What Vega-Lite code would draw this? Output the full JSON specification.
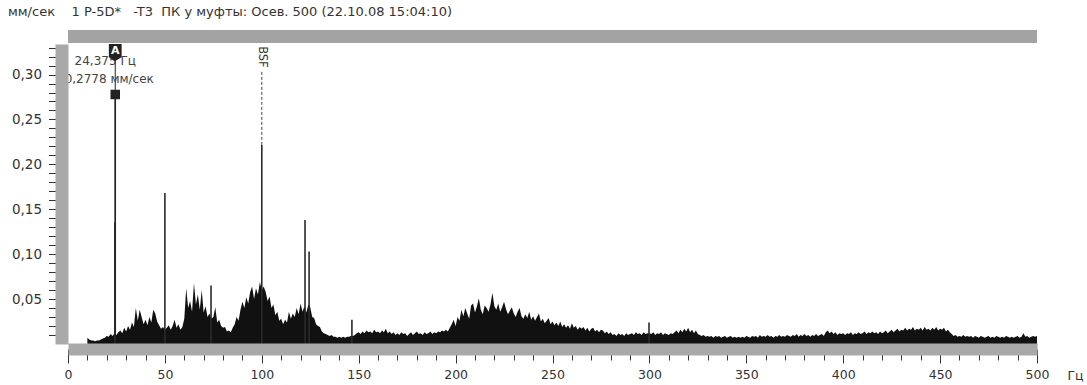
{
"$schema": "https://vega.github.io/schema/vega-lite/v6.json",
"width": 969, "height": 300,
"autosize": {"type": "none"},
"padding": {"left": 68, "top": 44, "right": 50, "bottom": 41},
"background": "white",
"config": {"view": {"stroke": null}, "font": "DejaVu Sans"},
"title": {"text": "мм/сек\u00a0\u00a0\u00a0\u00a01\u00a0P-5D*\u00a0\u00a0\u00a0-T3\u00a0\u00a0ПК у муфты: Осев. 500 (22.10.08 15:04:10)", "anchor": "start", "frame": "group", "dx": -60, "offset": 11, "fontSize": 13, "fontWeight": "normal", "color": "#333", "font": "DejaVu Sans"},
"encoding": {
"x": {"field": "f", "type": "quantitative", "scale": {"domain": [0, 500], "nice": false, "zero": false},
 "axis": {"orient": "bottom", "values": [0,10,20,30,40,50,60,70,80,90,100,110,120,130,140,150,160,170,180,190,200,210,220,230,240,250,260,270,280,290,300,310,320,330,340,350,360,370,380,390,400,410,420,430,440,450,460,470,480,490,500],
 "labelExpr": "datum.value % 50 === 0 ? datum.label : ''",
 "tickSize": {"condition": {"test": "datum.value % 50 === 0", "value": 14}, "value": 11},
 "domainWidth": 12, "domainColor": "#a9a9a9", "offset": 5, "tickColor": "#333", "tickWidth": 1,
 "labelColor": "#333", "labelFontSize": 12.5, "labelPadding": 5, "labelFlush": false, "labelOverlap": false,
 "title": "Гц", "titleX": 1007, "titleY": 26, "titleAlign": "center", "titleBaseline": "middle", "titleFontWeight": "normal", "titleFontSize": 12.5, "titleColor": "#333",
 "grid": false, "zindex": 1}},
"y": {"field": "a", "type": "quantitative", "scale": {"domain": [0, 0.334], "nice": false},
 "axis": {"orient": "left", "values": [0.01,0.02,0.03,0.04,0.05,0.06,0.07,0.08,0.09,0.1,0.11,0.12,0.13,0.14,0.15,0.16,0.17,0.18,0.19,0.2,0.21,0.22,0.23,0.24,0.25,0.26,0.27,0.28,0.29,0.3,0.31,0.32,0.33],
 "labelExpr": "round(datum.value*100) % 5 === 0 ? replace(format(datum.value, '.2f'), '.', ',') : ''",
 "tickSize": 13, "ticks": true,
 "domainWidth": 13, "domainColor": "#a9a9a9", "offset": 6.5, "tickColor": "#333", "tickWidth": 1,
 "labelColor": "#333", "labelFontSize": 13.5, "labelPadding": 7, "labelOverlap": false,
 "title": null, "grid": false, "zindex": 1}}
},
"layer": [
{
"data": {"values": [
{"f":10,"a":0.007},{"f":11,"a":0.005},{"f":12,"a":0.004},{"f":13,"a":0.004},{"f":14,"a":0.003},{"f":15,"a":0.004},{"f":16,"a":0.004},{"f":17,"a":0.005},{"f":18,"a":0.006},{"f":19,"a":0.007},
{"f":20,"a":0.009},{"f":21,"a":0.008},{"f":22,"a":0.011},{"f":23,"a":0.009},{"f":24,"a":0.012},{"f":25,"a":0.010},{"f":26,"a":0.013},{"f":27,"a":0.015},{"f":28,"a":0.012},{"f":29,"a":0.018},
{"f":30,"a":0.014},{"f":31,"a":0.020},{"f":32,"a":0.016},{"f":33,"a":0.024},{"f":34,"a":0.019},{"f":35,"a":0.040},{"f":36,"a":0.026},{"f":37,"a":0.038},{"f":38,"a":0.030},{"f":39,"a":0.022},
{"f":40,"a":0.027},{"f":41,"a":0.021},{"f":42,"a":0.030},{"f":43,"a":0.024},{"f":44,"a":0.038},{"f":45,"a":0.034},{"f":46,"a":0.025},{"f":47,"a":0.021},{"f":48,"a":0.017},{"f":49,"a":0.019},
{"f":50,"a":0.016},{"f":51,"a":0.018},{"f":52,"a":0.021},{"f":53,"a":0.016},{"f":54,"a":0.020},{"f":55,"a":0.027},{"f":56,"a":0.018},{"f":57,"a":0.022},{"f":58,"a":0.016},{"f":59,"a":0.019},
{"f":60,"a":0.028},{"f":61,"a":0.062},{"f":62,"a":0.040},{"f":63,"a":0.048},{"f":64,"a":0.036},{"f":65,"a":0.068},{"f":66,"a":0.044},{"f":67,"a":0.055},{"f":68,"a":0.038},{"f":69,"a":0.060},
{"f":70,"a":0.035},{"f":71,"a":0.042},{"f":72,"a":0.030},{"f":73,"a":0.034},{"f":74,"a":0.028},{"f":75,"a":0.030},{"f":76,"a":0.041},{"f":77,"a":0.024},{"f":78,"a":0.027},{"f":79,"a":0.020},
{"f":80,"a":0.018},{"f":81,"a":0.019},{"f":82,"a":0.014},{"f":83,"a":0.015},{"f":84,"a":0.013},{"f":85,"a":0.018},{"f":86,"a":0.022},{"f":87,"a":0.030},{"f":88,"a":0.026},{"f":89,"a":0.038},
{"f":90,"a":0.047},{"f":91,"a":0.040},{"f":92,"a":0.052},{"f":93,"a":0.045},{"f":94,"a":0.058},{"f":95,"a":0.064},{"f":96,"a":0.050},{"f":97,"a":0.062},{"f":98,"a":0.055},{"f":99,"a":0.069},
{"f":100,"a":0.060},{"f":101,"a":0.064},{"f":102,"a":0.058},{"f":103,"a":0.048},{"f":104,"a":0.053},{"f":105,"a":0.040},{"f":106,"a":0.044},{"f":107,"a":0.032},{"f":108,"a":0.036},{"f":109,"a":0.026},
{"f":110,"a":0.028},{"f":111,"a":0.022},{"f":112,"a":0.027},{"f":113,"a":0.024},{"f":114,"a":0.036},{"f":115,"a":0.028},{"f":116,"a":0.034},{"f":117,"a":0.030},{"f":118,"a":0.040},{"f":119,"a":0.033},
{"f":120,"a":0.045},{"f":121,"a":0.036},{"f":122,"a":0.042},{"f":123,"a":0.035},{"f":124,"a":0.044},{"f":125,"a":0.041},{"f":126,"a":0.030},{"f":127,"a":0.029},{"f":128,"a":0.022},{"f":129,"a":0.020},
{"f":130,"a":0.019},{"f":131,"a":0.014},{"f":132,"a":0.012},{"f":133,"a":0.011},{"f":134,"a":0.010},{"f":135,"a":0.009},{"f":136,"a":0.010},{"f":137,"a":0.008},{"f":138,"a":0.008},{"f":139,"a":0.007},
{"f":140,"a":0.008},{"f":141,"a":0.007},{"f":142,"a":0.008},{"f":143,"a":0.007},{"f":144,"a":0.008},{"f":145,"a":0.008},{"f":146,"a":0.009},{"f":147,"a":0.009},{"f":148,"a":0.010},{"f":149,"a":0.012},
{"f":150,"a":0.013},{"f":151,"a":0.011},{"f":152,"a":0.014},{"f":153,"a":0.012},{"f":154,"a":0.015},{"f":155,"a":0.013},{"f":156,"a":0.014},{"f":157,"a":0.012},{"f":158,"a":0.016},{"f":159,"a":0.013},
{"f":160,"a":0.014},{"f":161,"a":0.012},{"f":162,"a":0.015},{"f":163,"a":0.013},{"f":164,"a":0.017},{"f":165,"a":0.012},{"f":166,"a":0.014},{"f":167,"a":0.011},{"f":168,"a":0.013},{"f":169,"a":0.010},
{"f":170,"a":0.012},{"f":171,"a":0.010},{"f":172,"a":0.013},{"f":173,"a":0.011},{"f":174,"a":0.012},{"f":175,"a":0.009},{"f":176,"a":0.011},{"f":177,"a":0.013},{"f":178,"a":0.010},{"f":179,"a":0.012},
{"f":180,"a":0.014},{"f":181,"a":0.011},{"f":182,"a":0.012},{"f":183,"a":0.010},{"f":184,"a":0.013},{"f":185,"a":0.011},{"f":186,"a":0.012},{"f":187,"a":0.014},{"f":188,"a":0.011},{"f":189,"a":0.013},
{"f":190,"a":0.012},{"f":191,"a":0.014},{"f":192,"a":0.013},{"f":193,"a":0.015},{"f":194,"a":0.014},{"f":195,"a":0.016},{"f":196,"a":0.014},{"f":197,"a":0.018},{"f":198,"a":0.022},{"f":199,"a":0.027},
{"f":200,"a":0.020},{"f":201,"a":0.030},{"f":202,"a":0.026},{"f":203,"a":0.038},{"f":204,"a":0.031},{"f":205,"a":0.040},{"f":206,"a":0.034},{"f":207,"a":0.028},{"f":208,"a":0.043},{"f":209,"a":0.045},
{"f":210,"a":0.035},{"f":211,"a":0.042},{"f":212,"a":0.051},{"f":213,"a":0.038},{"f":214,"a":0.033},{"f":215,"a":0.043},{"f":216,"a":0.040},{"f":217,"a":0.036},{"f":218,"a":0.044},{"f":219,"a":0.057},
{"f":220,"a":0.042},{"f":221,"a":0.038},{"f":222,"a":0.045},{"f":223,"a":0.036},{"f":224,"a":0.041},{"f":225,"a":0.047},{"f":226,"a":0.039},{"f":227,"a":0.033},{"f":228,"a":0.037},{"f":229,"a":0.041},
{"f":230,"a":0.034},{"f":231,"a":0.030},{"f":232,"a":0.036},{"f":233,"a":0.040},{"f":234,"a":0.031},{"f":235,"a":0.028},{"f":236,"a":0.033},{"f":237,"a":0.029},{"f":238,"a":0.036},{"f":239,"a":0.027},
{"f":240,"a":0.031},{"f":241,"a":0.026},{"f":242,"a":0.030},{"f":243,"a":0.034},{"f":244,"a":0.025},{"f":245,"a":0.028},{"f":246,"a":0.023},{"f":247,"a":0.026},{"f":248,"a":0.029},{"f":249,"a":0.022},
{"f":250,"a":0.025},{"f":251,"a":0.021},{"f":252,"a":0.024},{"f":253,"a":0.020},{"f":254,"a":0.025},{"f":255,"a":0.019},{"f":256,"a":0.022},{"f":257,"a":0.018},{"f":258,"a":0.021},{"f":259,"a":0.017},
{"f":260,"a":0.023},{"f":261,"a":0.018},{"f":262,"a":0.020},{"f":263,"a":0.016},{"f":264,"a":0.019},{"f":265,"a":0.017},{"f":266,"a":0.019},{"f":267,"a":0.015},{"f":268,"a":0.018},{"f":269,"a":0.014},
{"f":270,"a":0.017},{"f":271,"a":0.018},{"f":272,"a":0.014},{"f":273,"a":0.016},{"f":274,"a":0.013},{"f":275,"a":0.016},{"f":276,"a":0.015},{"f":277,"a":0.012},{"f":278,"a":0.014},{"f":279,"a":0.011},
{"f":280,"a":0.013},{"f":281,"a":0.010},{"f":282,"a":0.011},{"f":283,"a":0.009},{"f":284,"a":0.012},{"f":285,"a":0.010},{"f":286,"a":0.011},{"f":287,"a":0.009},{"f":288,"a":0.012},{"f":289,"a":0.010},
{"f":290,"a":0.011},{"f":291,"a":0.012},{"f":292,"a":0.010},{"f":293,"a":0.013},{"f":294,"a":0.011},{"f":295,"a":0.012},{"f":296,"a":0.010},{"f":297,"a":0.013},{"f":298,"a":0.011},{"f":299,"a":0.012},
{"f":300,"a":0.012},{"f":301,"a":0.011},{"f":302,"a":0.013},{"f":303,"a":0.010},{"f":304,"a":0.012},{"f":305,"a":0.011},{"f":306,"a":0.013},{"f":307,"a":0.010},{"f":308,"a":0.012},{"f":309,"a":0.011},
{"f":310,"a":0.010},{"f":311,"a":0.012},{"f":312,"a":0.011},{"f":313,"a":0.013},{"f":314,"a":0.015},{"f":315,"a":0.012},{"f":316,"a":0.016},{"f":317,"a":0.013},{"f":318,"a":0.017},{"f":319,"a":0.014},
{"f":320,"a":0.018},{"f":321,"a":0.013},{"f":322,"a":0.016},{"f":323,"a":0.012},{"f":324,"a":0.015},{"f":325,"a":0.011},{"f":326,"a":0.010},{"f":327,"a":0.009},{"f":328,"a":0.010},{"f":329,"a":0.008},
{"f":330,"a":0.009},{"f":331,"a":0.008},{"f":332,"a":0.009},{"f":333,"a":0.007},{"f":334,"a":0.009},{"f":335,"a":0.008},{"f":336,"a":0.009},{"f":337,"a":0.007},{"f":338,"a":0.008},{"f":339,"a":0.009},
{"f":340,"a":0.007},{"f":341,"a":0.008},{"f":342,"a":0.009},{"f":343,"a":0.007},{"f":344,"a":0.008},{"f":345,"a":0.007},{"f":346,"a":0.008},{"f":347,"a":0.007},{"f":348,"a":0.008},{"f":349,"a":0.007},
{"f":350,"a":0.009},{"f":351,"a":0.008},{"f":352,"a":0.007},{"f":353,"a":0.009},{"f":354,"a":0.008},{"f":355,"a":0.009},{"f":356,"a":0.007},{"f":357,"a":0.010},{"f":358,"a":0.008},{"f":359,"a":0.009},
{"f":360,"a":0.008},{"f":361,"a":0.010},{"f":362,"a":0.008},{"f":363,"a":0.009},{"f":364,"a":0.007},{"f":365,"a":0.009},{"f":366,"a":0.008},{"f":367,"a":0.010},{"f":368,"a":0.008},{"f":369,"a":0.009},
{"f":370,"a":0.008},{"f":371,"a":0.010},{"f":372,"a":0.009},{"f":373,"a":0.008},{"f":374,"a":0.010},{"f":375,"a":0.009},{"f":376,"a":0.011},{"f":377,"a":0.008},{"f":378,"a":0.010},{"f":379,"a":0.009},
{"f":380,"a":0.011},{"f":381,"a":0.009},{"f":382,"a":0.010},{"f":383,"a":0.008},{"f":384,"a":0.010},{"f":385,"a":0.009},{"f":386,"a":0.011},{"f":387,"a":0.009},{"f":388,"a":0.010},{"f":389,"a":0.011},
{"f":390,"a":0.009},{"f":391,"a":0.013},{"f":392,"a":0.015},{"f":393,"a":0.012},{"f":394,"a":0.014},{"f":395,"a":0.011},{"f":396,"a":0.013},{"f":397,"a":0.010},{"f":398,"a":0.012},{"f":399,"a":0.011},
{"f":400,"a":0.012},{"f":401,"a":0.010},{"f":402,"a":0.012},{"f":403,"a":0.011},{"f":404,"a":0.013},{"f":405,"a":0.010},{"f":406,"a":0.012},{"f":407,"a":0.011},{"f":408,"a":0.013},{"f":409,"a":0.011},
{"f":410,"a":0.012},{"f":411,"a":0.014},{"f":412,"a":0.011},{"f":413,"a":0.013},{"f":414,"a":0.012},{"f":415,"a":0.014},{"f":416,"a":0.012},{"f":417,"a":0.013},{"f":418,"a":0.011},{"f":419,"a":0.014},
{"f":420,"a":0.012},{"f":421,"a":0.013},{"f":422,"a":0.015},{"f":423,"a":0.012},{"f":424,"a":0.014},{"f":425,"a":0.016},{"f":426,"a":0.013},{"f":427,"a":0.015},{"f":428,"a":0.017},{"f":429,"a":0.014},
{"f":430,"a":0.016},{"f":431,"a":0.015},{"f":432,"a":0.018},{"f":433,"a":0.015},{"f":434,"a":0.017},{"f":435,"a":0.016},{"f":436,"a":0.019},{"f":437,"a":0.015},{"f":438,"a":0.017},{"f":439,"a":0.016},
{"f":440,"a":0.018},{"f":441,"a":0.015},{"f":442,"a":0.019},{"f":443,"a":0.016},{"f":444,"a":0.017},{"f":445,"a":0.015},{"f":446,"a":0.018},{"f":447,"a":0.016},{"f":448,"a":0.019},{"f":449,"a":0.015},
{"f":450,"a":0.017},{"f":451,"a":0.016},{"f":452,"a":0.018},{"f":453,"a":0.014},{"f":454,"a":0.016},{"f":455,"a":0.013},{"f":456,"a":0.011},{"f":457,"a":0.009},{"f":458,"a":0.010},{"f":459,"a":0.008},
{"f":460,"a":0.009},{"f":461,"a":0.008},{"f":462,"a":0.010},{"f":463,"a":0.008},{"f":464,"a":0.009},{"f":465,"a":0.008},{"f":466,"a":0.009},{"f":467,"a":0.007},{"f":468,"a":0.009},{"f":469,"a":0.008},
{"f":470,"a":0.007},{"f":471,"a":0.009},{"f":472,"a":0.008},{"f":473,"a":0.007},{"f":474,"a":0.008},{"f":475,"a":0.009},{"f":476,"a":0.007},{"f":477,"a":0.008},{"f":478,"a":0.007},{"f":479,"a":0.009},
{"f":480,"a":0.008},{"f":481,"a":0.007},{"f":482,"a":0.008},{"f":483,"a":0.007},{"f":484,"a":0.009},{"f":485,"a":0.008},{"f":486,"a":0.007},{"f":487,"a":0.008},{"f":488,"a":0.007},{"f":489,"a":0.008},
{"f":490,"a":0.009},{"f":491,"a":0.007},{"f":492,"a":0.008},{"f":493,"a":0.012},{"f":494,"a":0.008},{"f":495,"a":0.009},{"f":496,"a":0.007},{"f":497,"a":0.008},{"f":498,"a":0.009},{"f":499,"a":0.008},
{"f":500,"a":0.009}
]},
"mark": {"type": "area", "color": "#111", "interpolate": "linear"}
},
{
"data": {"values": [
{"f":24.2,"a":0.135},{"f":24.375,"a":0.2778},{"f":50,"a":0.168},{"f":73.8,"a":0.065},{"f":100,"a":0.2216},{"f":122.3,"a":0.138},{"f":124.4,"a":0.103},{"f":146.5,"a":0.027},{"f":299.8,"a":0.024}
]},
"mark": {"type": "rule", "color": "#2a2a2a", "strokeWidth": 1.6},
"encoding": {"y2": {"datum": 0}}
},
{
"data": {"values": [{"f": 24.375, "a": 0.322}]},
"mark": {"type": "rule", "color": "#222", "strokeWidth": 1},
"encoding": {"y2": {"datum": 0}}
},
{
"data": {"values": [{"f": 100, "a": 0.303}]},
"mark": {"type": "rule", "color": "#444", "strokeWidth": 1, "strokeDash": [3, 2]},
"encoding": {"y2": {"datum": 0.2216}}
},
{
"data": {"values": [{"f": 100, "a": 0.3196}]},
"mark": {"type": "text", "text": "BSF", "angle": 90, "align": "center", "baseline": "middle", "fontSize": 11.5, "color": "#333", "font": "DejaVu Sans"}
},
{
"data": {"values": [{"f": 24.375, "a": 0.315}]},
"mark": {"type": "text", "text": "24,375 Гц", "align": "center", "baseline": "middle", "dx": -10, "fontSize": 12, "color": "#444", "font": "DejaVu Sans"}
},
{
"data": {"values": [{"f": 24.375, "a": 0.295}]},
"mark": {"type": "text", "text": "0,2778 мм/сек", "align": "center", "baseline": "middle", "dx": -6, "fontSize": 12, "color": "#444", "font": "DejaVu Sans"}
},
{
"data": {"values": [{"f": 24.375, "a": 0.2778}]},
"mark": {"type": "point", "shape": "square", "size": 90, "filled": true, "color": "#222", "opacity": 1}
},
{
"data": {"values": [{"f": 24.375, "a": 0.3245}]},
"mark": {"type": "point", "shape": "M-0.75,-1L0.75,-1L0.75,0.55L0,1L-0.75,0.55Z", "size": 289, "filled": true, "color": "#222", "opacity": 1}
},
{
"data": {"values": [{"f": 24.375, "a": 0.326}]},
"mark": {"type": "text", "text": "A", "align": "center", "baseline": "middle", "fontSize": 11, "fontWeight": "bold", "color": "white", "font": "DejaVu Sans"}
},
{
"data": {"values": [{"f": 0, "a": 0.3351}]},
"mark": {"type": "rect", "color": "#a3a3a3", "clip": false},
"encoding": {"x2": {"datum": 500}, "y2": {"datum": 0.3496}}
}
]
}
